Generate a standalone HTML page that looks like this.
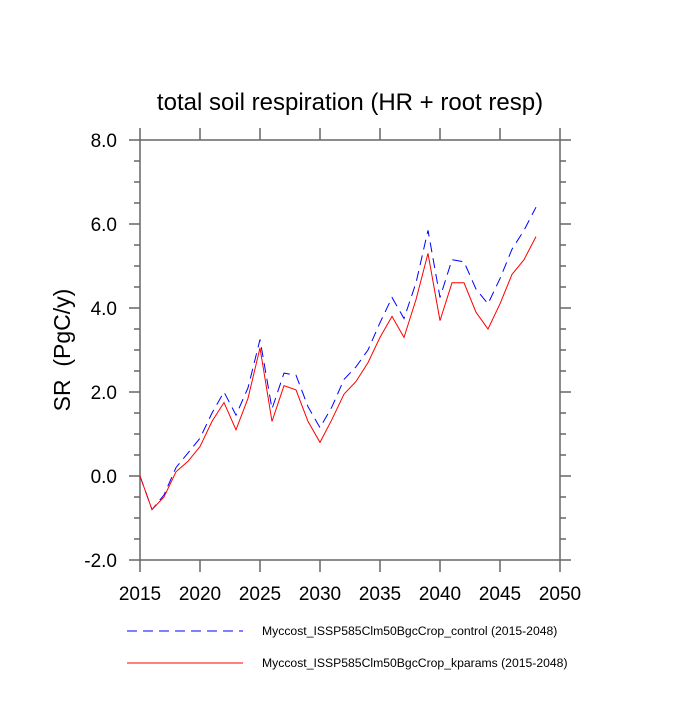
<!DOCTYPE html>
<html><head><meta charset="utf-8"><style>body{margin:0;background:#fff}</style></head><body>
<svg width="700" height="700" xmlns="http://www.w3.org/2000/svg" font-family="Liberation Sans, sans-serif">
<rect width="700" height="700" fill="#fff"/>
<text x="350" y="110" font-size="24" text-anchor="middle">total soil respiration (HR + root resp)</text>
<text transform="translate(70,350) rotate(-90)" font-size="23" text-anchor="middle" xml:space="preserve" style="white-space:pre">SR  (PgC/y)</text>
<g stroke="#666" stroke-width="1.5" fill="none">
<rect x="140" y="140" width="420" height="420"/>
<path d="M129 140H140M129 224H140M129 308H140M129 392H140M129 476H140M129 560H140M560 140H571M560 224H571M560 308H571M560 392H571M560 476H571M560 560H571"/>
<path d="M134 161H140M134 182H140M134 203H140M134 245H140M134 266H140M134 287H140M134 329H140M134 350H140M134 371H140M134 413H140M134 434H140M134 455H140M134 497H140M134 518H140M134 539H140
M560 161H566M560 182H566M560 203H566M560 245H566M560 266H566M560 287H566M560 329H566M560 350H566M560 371H566M560 413H566M560 434H566M560 455H566M560 497H566M560 518H566M560 539H566"/>
<path d="M140 560V572M200 560V572M260 560V572M320 560V572M380 560V572M440 560V572M500 560V572M560 560V572M140 140V128M200 140V128M260 140V128M320 140V128M380 140V128M440 140V128M500 140V128M560 140V128"/>
</g>
<g font-size="19" text-anchor="end">
<text x="117" y="147">8.0</text><text x="117" y="231">6.0</text><text x="117" y="315">4.0</text><text x="117" y="399">2.0</text><text x="117" y="483">0.0</text><text x="117" y="567">-2.0</text>
</g>
<g font-size="19" text-anchor="middle">
<text x="140" y="600">2015</text><text x="200" y="600">2020</text><text x="260" y="600">2025</text><text x="320" y="600">2030</text><text x="380" y="600">2035</text><text x="440" y="600">2040</text><text x="500" y="600">2045</text><text x="560" y="600">2050</text>
</g>
<polyline fill="none" stroke="#00f" stroke-width="1" stroke-dasharray="10,6" points="140,476 152,509.6 164,494.9 176,467.6 188,452.9 200,438.2 212,413 224,392 236,415.1 248,387.8 260,339.5 272,408.8 284,373.1 296,375.2 308,406.7 320,427.7 332,406.7 344,379.4 356,366.8 368,350 380,322.7 392,297.5 404,318.5 416,282.8 428,230.3 440,297.5 452,259.7 464,261.8 476,289.1 488,303.8 500,278.6 512,249.2 524,230.3 536,207.2"/>
<polyline fill="none" stroke="#f00" stroke-width="1" points="140,476 152,509.6 164,497 176,471.8 188,461.3 200,446.6 212,421.4 224,402.5 236,429.8 248,398.3 260,347.9 272,421.4 284,385.7 296,389.9 308,421.4 320,442.4 332,419.3 344,394.1 356,381.5 368,362.6 380,337.4 392,316.4 404,337.4 416,299.6 428,253.4 440,320.6 452,282.8 464,282.8 476,312.2 488,329 500,303.8 512,274.4 524,259.7 536,236.6"/>
<line x1="127" y1="631" x2="243" y2="631" stroke="#00f" stroke-dasharray="10,6"/>
<line x1="127" y1="663" x2="243" y2="663" stroke="#f00"/>
<g font-size="12.2"><text x="262" y="635">Myccost_ISSP585Clm50BgcCrop_control (2015-2048)</text><text x="262" y="667">Myccost_ISSP585Clm50BgcCrop_kparams (2015-2048)</text></g>
</svg>
</body></html>
